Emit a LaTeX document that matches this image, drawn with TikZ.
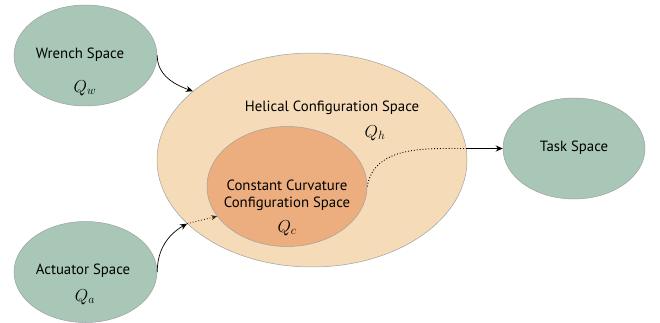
\documentclass[tikz,border=0pt]{standalone}
\usepackage{fontspec}
\setmainfont{PT Sans}
\usetikzlibrary{shapes.geometric,arrows.meta}
\definecolor{sgreen}{RGB}{168,199,183}
\definecolor{hfill}{RGB}{245,219,183}
\definecolor{cfill}{RGB}{236,174,126}
\definecolor{edge}{RGB}{160,160,160}
\definecolor{dotbrown}{RGB}{60,40,20}
\tikzset{
  space/.style={ellipse, draw=edge, line width=0.5pt, inner sep=0pt},
  lbl/.style={font=\fontsize{14.8}{17}\selectfont, inner sep=0pt, align=center},
  mlbl/.style={font=\fontsize{18}{20}\selectfont, inner sep=0pt},
  arr/.style={-{Stealth[length=7pt,width=6pt]}, line width=0.7pt},
  darr/.style={-{Stealth[length=6pt,width=5pt]}, line width=0.9pt, dotted, dotbrown},
}
\begin{document}
\begin{tikzpicture}[x=1pt,y=-1pt]
\useasboundingbox (0,0) rectangle (660,323);
\node[space, fill=sgreen, minimum width=143pt, minimum height=101pt] (w) at (85.5,55.5) {};
\node[space, fill=sgreen, minimum width=143pt, minimum height=101pt] (a) at (85.5,272) {};
\node[space, fill=sgreen, minimum width=142pt, minimum height=101pt] (t) at (574,148.5) {};
\node[space, fill=hfill, minimum width=310pt, minimum height=214pt] (h) at (312,160) {};
\node[space, fill=cfill, minimum width=160pt, minimum height=120pt] (c) at (287,186.5) {};
\node[lbl] (wl) at (80,55) {Wrench Space};
\node[mlbl] (wq) at (85,88) {$Q_w$};
\node[lbl] (al) at (83,271) {Actuator Space};
\node[mlbl] (aq) at (85,297) {$Q_a$};
\node[lbl] (tl) at (574,148) {Task Space};
\node[lbl] (hl) at (332,108) {Helical Configuration Space};
\node[mlbl] (hq) at (375,133) {$Q_h$};
\node[lbl] (cl) at (287,195) {Constant Curvature\\Configuration Space};
\node[mlbl] (cq) at (287,228) {$Q_c$};
\coordinate (m) at (t.west -| h.east);
\draw[arr] (w.east) to[out=-90,in=160] (h.150);
\draw[arr] (a.east) to[out=90,in=210] (h.207);
\draw[darr] (h.207) to[out=15,in=195] (c.203);
\draw[line width=0.9pt, dotted] (c.east) to[out=80,in=180] (m);
\draw[arr] (m) -- (t.west);
\end{tikzpicture}
\end{document}
